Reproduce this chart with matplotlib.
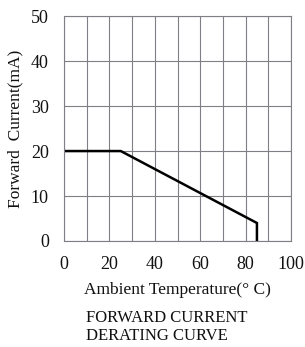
import matplotlib.pyplot as plt
import numpy as np

plt.rcParams['font.family'] = ['Liberation Serif', 'DejaVu Serif']

# derating curve
temp = [0, 25, 85, 85]
current = [20, 20, 4, 0]
x_ticks = [0, 20, 40, 60, 80, 100]
y_ticks = [0, 10, 20, 30, 40, 50]

fig = plt.figure(figsize=(3.05, 3.47), dpi=100)
ax = fig.add_axes([0.210, 0.3055, 0.744, 0.648])

ax.plot(temp, current, color="black", lw=1.8, solid_joinstyle="miter")

ax.set_xlim(0, 100)
ax.set_ylim(0, 50)
ax.set_xticks(x_ticks)
ax.set_yticks(y_ticks)
ax.set_xticks(np.arange(0, 101, 10), minor=True)
ax.grid(True, which="both", color="#7f7f85", lw=0.8)
ax.tick_params(which="both", length=0, labelsize=13, colors="#111111")
ax.tick_params(axis="x", pad=11)
ax.tick_params(axis="y", pad=11)
for s in ax.spines.values():
    s.set_color("#7f7f85")
    s.set_linewidth(0.8)

ax.set_xlabel("Ambient Temperature(° C)", fontsize=12.5, labelpad=6, color="#111111")
ax.set_ylabel("Forward  Current(mA)", fontsize=12.5, labelpad=5, color="#111111")

fig.text(0.282, 0.058, "FORWARD CURRENT\nDERATING CURVE", fontsize=12,
         color="#111111", va="center", ha="left", linespacing=1.2)

fig.savefig("out.png", dpi=100, facecolor="white")
